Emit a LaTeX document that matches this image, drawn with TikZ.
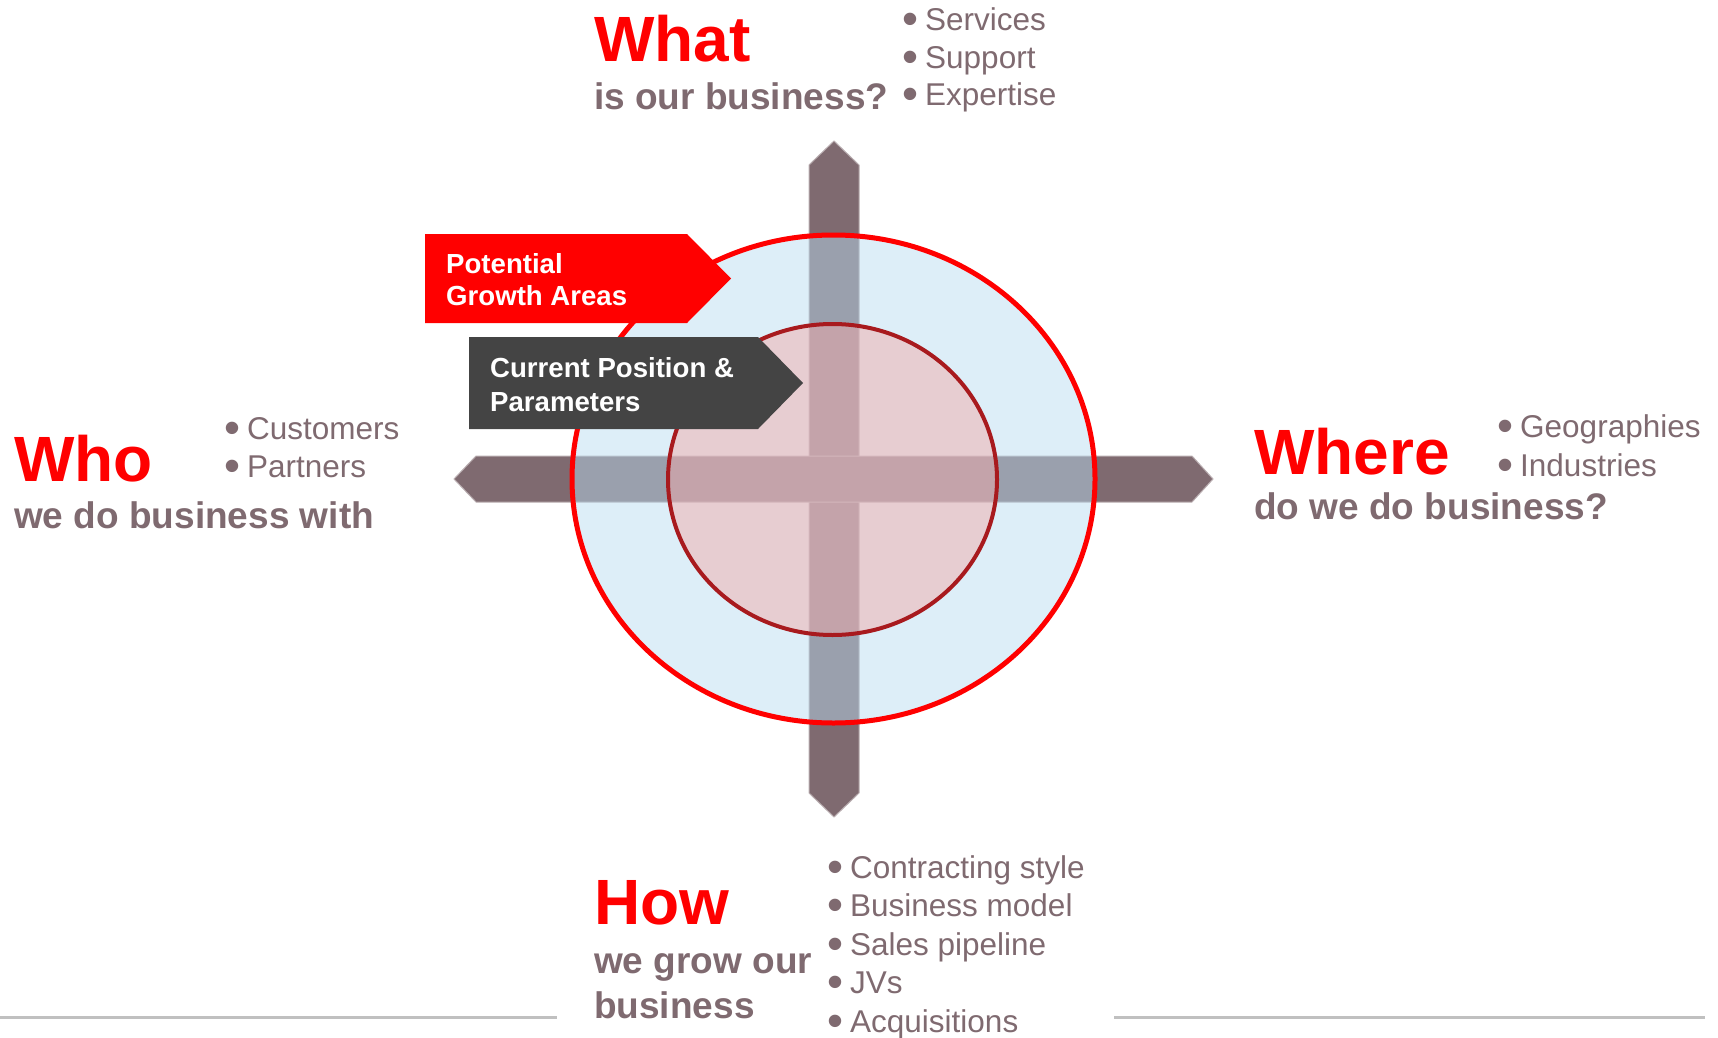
\documentclass[tikz,border=0pt]{standalone}
\usepackage{fontspec}
\setmainfont{Liberation Sans}

\definecolor{mauve}{RGB}{127,106,112}
\definecolor{hotred}{RGB}{255,0,0}
\definecolor{ringred}{RGB}{168,26,30}
\definecolor{skyfill}{RGB}{184,220,240}
\definecolor{rosefill}{RGB}{244,168,167}
\definecolor{slate}{RGB}{68,68,68}
\definecolor{rulegray}{RGB}{192,192,192}

\newcommand\bul{\raisebox{-4pt}{\scalebox{1.45}{\textbullet}}\hspace{7pt}}

\begin{document}
\begin{tikzpicture}[x=1pt,y=-1pt,
    head/.style={inner sep=0pt,anchor=base west,text=hotred,font=\bfseries\fontsize{64}{64}\selectfont},
    sub/.style={inner sep=0pt,anchor=base west,text=mauve,font=\bfseries\fontsize{37}{37}\selectfont},
    item/.style={inner sep=0pt,anchor=base west,text=mauve,text height=23pt,text depth=5pt,font=\fontsize{31.5}{31.5}\selectfont},
    tag/.style={inner sep=0pt,anchor=base west,text=white,font=\bfseries\fontsize{27.6}{27.6}\selectfont},
    bar/.style={fill=mauve,draw=mauve!55,line width=1pt}]

\useasboundingbox (0,0) rectangle (1718,1038);

% the cross
\path[bar] (809,165) -- (834,141) -- (859,165) -- (859,793) -- (834,817) -- (809,793) -- cycle;
\path[bar] (476,456) -- (454,479) -- (476,502) -- (1192,502) -- (1213,479) -- (1192,456) -- cycle;

% rings over it
\draw[hotred,line width=5pt,fill=skyfill,fill opacity=.48] (833.5,479) ellipse [x radius=261.5pt,y radius=244pt];
\draw[ringred,line width=4pt,fill=rosefill,fill opacity=.47] (832.5,479.5) ellipse [x radius=164.5pt,y radius=155.5pt];

% tags
\fill[hotred] (425,234) -- (687,234) -- (731,278.5) -- (687,323) -- (425,323) -- cycle;
\fill[slate] (469,337) -- (758,337) -- (803,383) -- (758,429) -- (469,429) -- cycle;
\node[tag] (grow1) at (446,273) {Potential};
\node[tag] (grow2) at (446,305) {Growth Areas};
\node[tag] (cur1) at (490,377) {Current Position \&};
\node[tag] (cur2) at (490,411) {Parameters};

% what
\node[head] (what) at (594,62) {What};
\node[sub] (whatsub) at (594,110) {is our business?};
\foreach \t [count=\i from 0] in {Services,Support,Expertise}
  \node[item] (what-\i) at (902,31+37.5*\i) {\bul\t};

% who
\node[head] (who) at (14,481) {Who};
\node[sub] (whosub) at (14,528) {we do business with};
\foreach \t [count=\i from 0] in {Customers,Partners}
  \node[item] (who-\i) at (224,439+38*\i) {\bul\t};

% where
\node[head] (where) at (1254,474) {Where};
\node[sub] (wheresub) at (1254,519) {do we do business?};
\foreach \t [count=\i from 0] in {Geographies,Industries}
  \node[item] (where-\i) at (1497,437+39*\i) {\bul\t};

% how
\node[head] (how) at (594,924) {How};
\node[sub] (howsub1) at (594,973) {we grow our};
\node[sub] (howsub2) at (594,1018) {business};
\foreach \t [count=\i from 0] in {Contracting style,Business model,Sales pipeline,JVs,Acquisitions}
  \node[item] (how-\i) at (827,878+38.5*\i) {\bul\t};

% base rules
\draw[rulegray,line width=3pt] (0,1017) -- (557,1017);
\draw[rulegray,line width=3pt] (1114,1017) -- (1705,1017);
\end{tikzpicture}
\end{document}
